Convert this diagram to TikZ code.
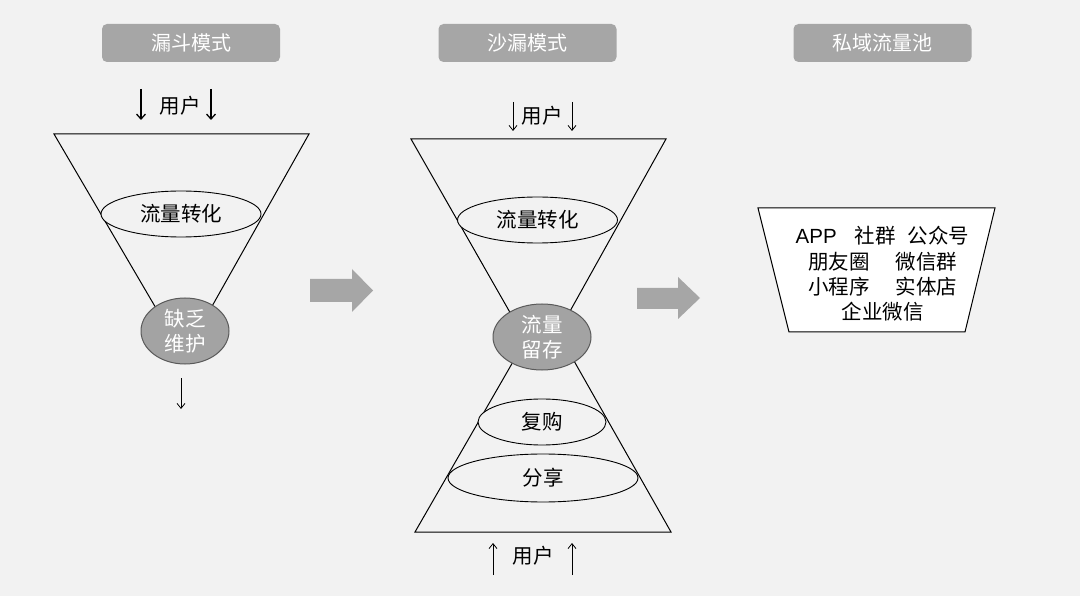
\documentclass[tikz,border=0pt]{standalone}
\usepackage{fontspec}
\newfontfamily\cjk{Noto Sans CJK SC}
\newfontfamily\lat{Liberation Sans}
\usetikzlibrary{shapes.geometric,arrows.meta}
\definecolor{bg}{HTML}{F2F2F2}
\definecolor{tbox}{HTML}{A6A6A6}
\definecolor{gellip}{HTML}{A3A3A3}
\definecolor{gedge}{HTML}{5A5A5A}
\definecolor{bigarrow}{HTML}{A6A6A6}
\begin{document}
\begin{tikzpicture}[x=1pt,y=-1pt,
  title/.style={fill=tbox, rounded corners=5pt, minimum width=178pt, minimum height=38pt, text=white, font=\cjk\fontsize{20}{20}\selectfont, inner sep=0},
  txt/.style={font=\cjk\fontsize{20.5}{25}\selectfont, inner sep=0, align=center},
  oval/.style={ellipse, draw=black, line width=0.9pt, fill=bg, inner sep=0, txt},
  keyoval/.style={ellipse, draw=gedge, line width=1pt, fill=gellip, inner sep=0, text=white, align=center, font=\cjk\fontsize{20.5}{25}\selectfont},
  funnel/.style={draw=black, line width=1pt, line join=miter},
  uarrow/.style={line width=1.3pt, -{Straight Barb[length=5pt,width=9pt]}},
  tarrow/.style={line width=0.8pt, -{Straight Barb[length=5pt,width=8pt]}},
  bigarr/.style={fill=bigarrow, draw=none},
]
% background / bounding box
\path[fill=bg] (0,0) rectangle (1080,596);

% titles
\node[title] (t1) at (191,43) {漏斗模式};
\node[title] (t2) at (527.5,43) {沙漏模式};
\node[title] (t3) at (882.5,43) {私域流量池};

% ---------- funnel 1 ----------
\coordinate (f1a) at (54,134);
\coordinate (f1b) at (309,134);
\coordinate (f1c) at (184,356);
\draw[funnel] (f1a) -- (f1b) -- (f1c) -- cycle;
\node[oval, minimum width=160pt, minimum height=46pt] (f1conv) at (181,214) {流量转化};
\node[keyoval, minimum width=88pt, minimum height=66pt] (f1keep) at (185,331) {缺乏\\维护};

\node[txt] (u1) at (180,106) {用户};
\coordinate (u1la) at (141,89);
\coordinate (u1lb) at (141,120);
\coordinate (u1ra) at (211,89);
\coordinate (u1rb) at (211,120);
\draw[uarrow] (u1la) -- (u1lb);
\draw[uarrow] (u1ra) -- (u1rb);

\coordinate (d1a) at (181,378);
\coordinate (d1b) at (181,409);
\draw[tarrow] (d1a) -- (d1b);

% ---------- big arrows ----------
\path[bigarr] (310,279) -- (352,279) -- (352,269) -- (373,290.5) -- (352,312) -- (352,302) -- (310,302) -- cycle;
\path[bigarr] (637,288) -- (678,288) -- (678,277) -- (700,298) -- (678,319) -- (678,309) -- (637,309) -- cycle;

% ---------- hourglass ----------
\coordinate (h1a) at (411,139);
\coordinate (h1b) at (666,139);
\coordinate (h1c) at (540,365);
\coordinate (h2a) at (415,532);
\coordinate (h2b) at (671,532);
\coordinate (h2c) at (544,308);
\draw[funnel] (h1a) -- (h1b) -- (h1c) -- cycle;
\draw[funnel] (h2a) -- (h2b) -- (h2c) -- cycle;
\node[oval, minimum width=160pt, minimum height=46pt] (h1conv) at (537.5,220) {流量转化};
\node[oval, minimum width=128pt, minimum height=46pt] (hbuy) at (542,422) {复购};
\node[oval, minimum width=190pt, minimum height=48pt] (hshare) at (543,478) {分享};
\node[keyoval, minimum width=98pt, minimum height=66pt] (hkeep) at (542,337) {流量\\留存};

\node[txt] (u2) at (542,116) {用户};
\coordinate (u2la) at (513,102);
\coordinate (u2lb) at (513,131);
\coordinate (u2ra) at (572,102);
\coordinate (u2rb) at (572,131);
\draw[tarrow] (u2la) -- (u2lb);
\draw[tarrow] (u2ra) -- (u2rb);

\node[txt] (u3) at (533,556) {用户};
\coordinate (u3la) at (493,575);
\coordinate (u3lb) at (493,543);
\coordinate (u3ra) at (572,575);
\coordinate (u3rb) at (572,543);
\draw[tarrow] (u3la) -- (u3lb);
\draw[tarrow] (u3ra) -- (u3rb);

% ---------- private pool ----------
\coordinate (p1) at (758,208);
\coordinate (p2) at (995,208);
\coordinate (p3) at (965,332);
\coordinate (p4) at (789,332);
\draw[funnel, fill=white] (p1) -- (p2) -- (p3) -- (p4) -- cycle;
\node[txt] (l1) at (882.5,236) {{\lat APP}\hspace{18pt}社群\hspace{12pt}公众号};
\node[txt] (l2) at (882.5,262) {朋友圈\hspace{26pt}微信群};
\node[txt] (l3) at (882.5,287) {小程序\hspace{26pt}实体店};
\node[txt] (l4) at (882.5,312) {企业微信};
\end{tikzpicture}
\end{document}
